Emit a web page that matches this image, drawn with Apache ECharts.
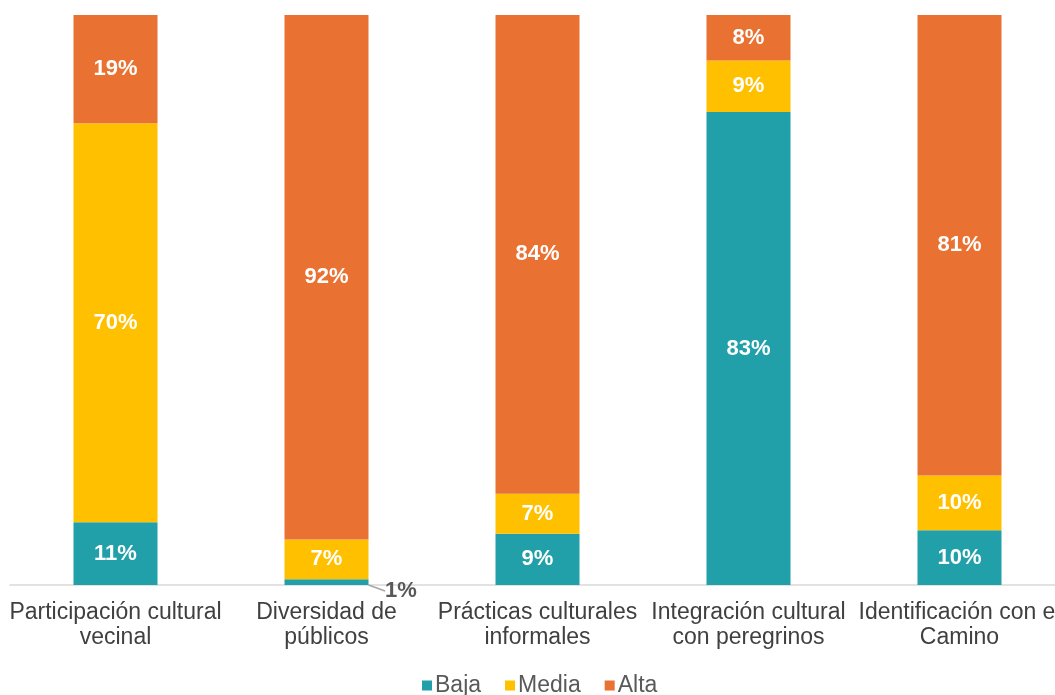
<!DOCTYPE html>
<html><head><meta charset="utf-8">
<script src="https://cdn.jsdelivr.net/npm/echarts@6/dist/echarts.min.js"></script>
<style>html,body{margin:0;padding:0;background:#fff;overflow:hidden}#c{width:1075px;height:695px}</style>
</head><body><div id="c"></div>
<script>
const categories = ['Participación cultural\nvecinal', 'Diversidad de\npúblicos', 'Prácticas culturales\ninformales', 'Integración cultural\ncon peregrinos', 'Identificación con el\nCamino'];
const baja = [11, 1, 9, 83, 9.6];
const media = [70, 7, 7, 9, 9.6];
const alta = [19, 92, 84, 8, 80.8];

const chart = echarts.init(document.getElementById('c'));
const lbl = {show: true, color: '#fff', fontWeight: 'bold', fontSize: 22, fontFamily: 'Liberation Sans, Arial', formatter: p => Math.round(p.value) + '%'};
function mk(name, data, color) {
  return {name, type: 'bar', stack: 's', data, barWidth: 84, itemStyle: {color}, label: lbl};
}
const s0 = mk('Baja', baja, '#21A0AA');
s0.data = baja.map((v, i) => i === 1 ? {value: v, label: {color: '#595959', position: 'bottom'}} : v);
s0.labelLayout = p => p.dataIndex === 1 ? {x: 401, y: 591, align: 'center', verticalAlign: 'middle'} : {};
s0.labelLine = {show: true, lineStyle: {color: '#a6a6a6', width: 1.5}};
chart.setOption({
  animation: false,
  grid: {left: 10, top: 15, width: 1055, height: 570},
  xAxis: {type: 'category', data: categories, axisTick: {show: false},
    axisLine: {lineStyle: {color: '#d9d9d9', width: 1.5}},
    axisLabel: {interval: 0, color: '#404040', fontSize: 23, lineHeight: 25, margin: 15, fontFamily: 'Liberation Sans, Arial'}},
  yAxis: {type: 'value', min: 0, max: 100, show: false},
  legend: {top: 669, left: 417, icon: 'rect', itemWidth: 10, itemHeight: 10, itemGap: 24,
    textStyle: {fontSize: 23, color: '#595959', fontFamily: 'Liberation Sans, Arial', padding: [0,0,0,-2]}},
  series: [s0, mk('Media', media, '#FFC000'), mk('Alta', alta, '#E97132')]
});
</script></body></html>
